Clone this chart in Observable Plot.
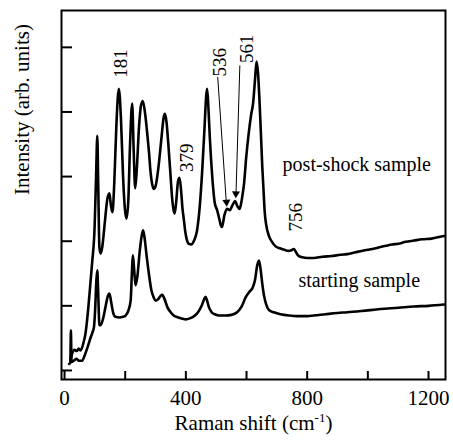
<!DOCTYPE html>
<html><head><meta charset="utf-8">
<script src="https://cdn.jsdelivr.net/npm/d3@7"></script>
<script src="https://cdn.jsdelivr.net/npm/@observablehq/plot@0.6"></script>
<style>
body{margin:0;background:#fff;font-family:Liberation Serif}
</style>
</head><body><div id="chart"></div>
<script>
// Post-shock sample spectrum (Raman shift cm^-1, intensity arb. units)
const postShift = [20,25,33,40,47,53,62,69,78,86,91,99,104,108,111,115,119,124,133,141,148,153,158,164,171,179,186,193,199,204,210,216,223,228,233,238,246,252,258,265,272,278,284,289,294,300,311,320,327,331,336,343,349,355,360,363,368,374,379,384,389,393,398,404,410,418,426,437,446,454,462,467,470,474,479,487,495,503,510,515,519,527,536,545,553,562,570,577,582,587,592,599,608,615,622,628,633,638,643,648,652,656,660,665,674,684,696,710,723,738,748,756,762,770,784,800,822,850,880,910,932,960,990,1015,1042,1060,1080,1100,1125,1152,1180,1210,1230,1251];
const postIntensity = [0.17,0.26,0.32,0.30,0.34,0.31,0.42,0.57,0.95,1.39,1.67,2.20,3.00,3.63,2.90,1.90,1.81,1.90,2.30,2.65,2.74,2.55,2.45,2.90,3.80,4.36,3.90,3.00,2.50,2.35,2.60,3.50,4.13,3.40,2.82,3.10,3.80,4.10,4.17,4.00,3.70,3.40,3.05,2.88,2.81,2.85,3.20,3.62,3.92,3.97,3.85,3.45,3.05,2.65,2.47,2.43,2.60,2.92,2.98,2.80,2.50,2.35,2.15,2.01,1.96,1.95,2.00,2.17,2.55,3.10,3.80,4.25,4.36,4.10,3.60,3.00,2.60,2.48,2.35,2.25,2.22,2.40,2.50,2.48,2.55,2.62,2.54,2.50,2.58,2.72,2.90,3.30,3.70,3.95,4.15,4.50,4.78,4.60,4.15,3.60,3.15,2.80,2.45,2.25,2.08,1.99,1.92,1.89,1.87,1.85,1.86,1.88,1.84,1.78,1.75,1.74,1.74,1.76,1.77,1.79,1.80,1.83,1.86,1.88,1.91,1.93,1.95,1.96,1.99,2.01,2.03,2.04,2.06,2.08];

// Starting sample spectrum
const startShift = [15,19,21,23,30,40,47,58,67,76,86,93,97,101,105,108,111,115,119,127,135,142,148,154,160,168,180,193,201,210,218,222,225,229,234,240,248,255,259,264,270,278,286,294,300,308,316,322,330,339,350,360,375,390,399,415,430,440,452,460,465,470,476,485,495,510,530,550,569,585,597,610,620,628,635,641,646,652,658,665,675,690,712,740,767,800,822,860,900,932,980,1042,1100,1152,1200,1251];
const startIntensity = [0.10,0.12,0.62,0.13,0.15,0.18,0.15,0.15,0.24,0.36,0.51,0.60,0.67,0.95,1.40,1.55,1.20,0.70,0.70,0.80,0.98,1.14,1.19,1.05,0.90,0.83,0.82,0.83,0.85,0.92,1.08,1.50,1.78,1.60,1.32,1.45,1.85,2.10,2.17,2.05,1.80,1.50,1.25,1.13,1.08,1.10,1.15,1.17,1.10,0.98,0.90,0.85,0.82,0.80,0.79,0.81,0.85,0.90,1.00,1.10,1.14,1.08,0.98,0.90,0.87,0.85,0.85,0.86,0.90,1.00,1.13,1.22,1.28,1.40,1.62,1.70,1.58,1.34,1.15,1.02,0.93,0.90,0.87,0.85,0.84,0.84,0.85,0.87,0.89,0.90,0.92,0.95,0.97,0.99,1.00,1.02];

const xTicks = [0,200,400,600,800,1000,1200];
const xTickLabels = [0,400,800,1200];
const yTicks = [0,1,2,3,4,5];

const seriesNames = ["post-shock sample","starting sample"];
const seriesLabelX = [719, 771];
const seriesLabelY = [3.19, 1.39];

const peakLabels = ["181","379","536","561","756"];
const peakLabelX = [185, 402, 511, 600, 762];
const peakLabelY = [4.75, 3.29, 4.77, 4.98, 2.37];

const arrowFromX = [505, 578];
const arrowFromY = [4.54, 4.72];
const arrowToX = [534, 565];
const arrowToY = [2.56, 2.69];
const arrowAngle = [176, 181.7];

const xLabel = "Raman shift (cm-1)";
const yLabel = "Intensity (arb. units)";

const FONT = "Liberation Serif";

const post = postShift.map((s,i)=>({shift:s, intensity:postIntensity[i]}));
const start = startShift.map((s,i)=>({shift:s, intensity:startIntensity[i]}));
const seriesLabels = seriesNames.map((t,i)=>({t, x:seriesLabelX[i], y:seriesLabelY[i]}));
const peaks = peakLabels.map((t,i)=>({t, x:peakLabelX[i], y:peakLabelY[i]}));
const arrows = arrowFromX.map((x,i)=>({x1:x, y1:arrowFromY[i], x2:arrowToX[i], y2:arrowToY[i], a:arrowAngle[i]}));

const plot = Plot.plot({
  width: 453, height: 440,
  marginLeft: 61, marginRight: 8, marginTop: 10, marginBottom: 61,
  style: {fontFamily: FONT, fontSize: "20px", color: "#000", background: "#fff", overflow: "visible"},
  x: {domain: [-10, 1256]},
  y: {domain: [-0.14, 5.57], axis: null},
  marks: [
    Plot.frame({strokeWidth: 2}),
    Plot.tickX(xTicks, {x: d => d, insetTop: 361, strokeWidth: 2}),
    Plot.tickY(yTicks, {y: d => d, insetRight: 373, strokeWidth: 2}),
    Plot.axisX({ticks: xTickLabels, tickFormat: d => String(d), tickSize: 0, tickPadding: 11, fontSize: 21, label: null}),
    Plot.line(start, {x: "shift", y: "intensity", curve: "monotone-x", strokeWidth: 2.6, strokeLinejoin: "round"}),
    Plot.line(post, {x: "shift", y: "intensity", curve: "monotone-x", strokeWidth: 2.6, strokeLinejoin: "round"}),
    Plot.link(arrows, {x1: "x1", y1: "y1", x2: "x2", y2: "y2", strokeWidth: 1}),
    Plot.dot(arrows, {x: "x2", y: "y2", symbol: "triangle", r: 3, fill: "#000", stroke: "none", rotate: "a", dy: -3}),
    Plot.text(seriesLabels, {x: "x", y: "y", text: "t", textAnchor: "start", fontSize: 20}),
    Plot.text(peaks, {x: "x", y: "y", text: "t", rotate: -90, fontSize: 19}),
    Plot.text([yLabel], {text: d => d, frameAnchor: "left", dx: -39, rotate: -90, fontSize: 21}),
    Plot.text([xLabel], {text: d => d, frameAnchor: "bottom", dy: 50, fontSize: 21})
  ]
});
document.getElementById("chart").appendChild(plot);

// superscript for the x label
d3.select(plot).selectAll("text").filter(function(){ return this.textContent === xLabel; }).each(function(){
  const t = d3.select(this);
  t.text(null);
  t.append("tspan").text("Raman shift (cm");
  t.append("tspan").attr("dy", -8).attr("font-size", 13).text("-1");
  t.append("tspan").attr("dy", 8).text(")");
});
// force the serif face on every text node
d3.select(plot).attr("font-family", FONT).style("font-family", FONT);
d3.select(plot).selectAll("g, text, tspan").attr("font-family", FONT).style("font-family", FONT);
</script>
</body></html>
